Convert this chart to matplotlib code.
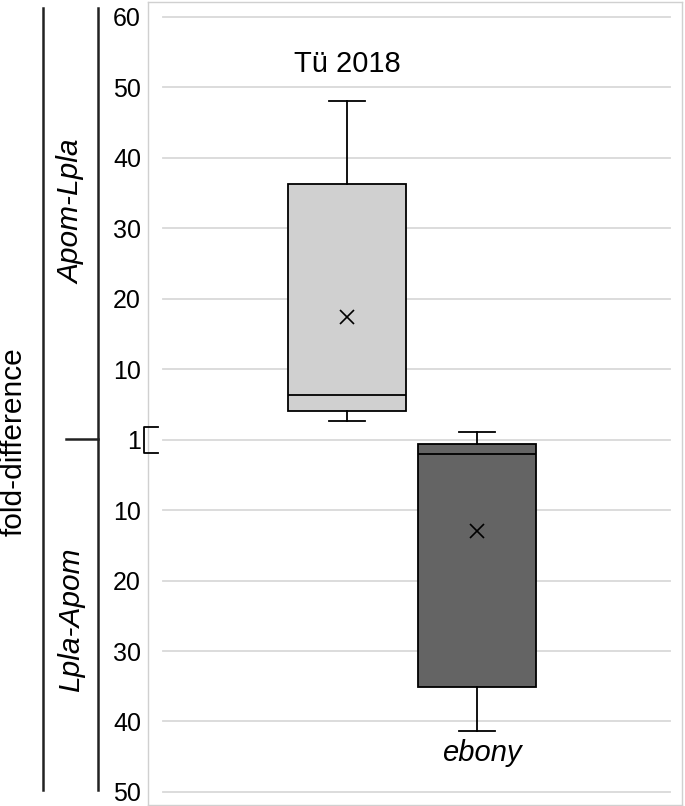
import matplotlib
matplotlib.use("Agg")
import matplotlib.pyplot as plt
from matplotlib.lines import Line2D

plt.rcParams['font.family'] = ['Liberation Sans', 'DejaVu Sans']

# Internal axis coordinate: positive = Apom-Lpla fold, 0 = "1", negative = Lpla-Apom fold
tick_pos = [60, 50, 40, 30, 20, 10, 0, -10, -20, -30, -40, -50]
tick_labels = ["60", "50", "40", "30", "20", "10", "1", "10", "20", "30", "40", "50"]

box_names = ["Tü 2018", "ebony"]
whislo = [2.7, -41.3]
q1 = [4.1, -35.1]
med = [6.3, -2.1]
q3 = [36.3, -0.6]
whishi = [48.1, 1.1]
means = [17.4, -13.0]
box_colors = ["#d0d0d0", "#646464"]

W, H = 685, 806
fig = plt.figure(figsize=(W / 100, H / 100), dpi=100)
ax = fig.add_axes([148 / W, 1 - 805 / H, 534 / W, 803 / H])
ax.set_xlim(0, 1)
ax.set_ylim(-51.85, 62.1)

positions = [0.3727, 0.616]
stats = []
for i in range(2):
    stats.append(dict(label=box_names[i], whislo=whislo[i], q1=q1[i], med=med[i],
                      q3=q3[i], whishi=whishi[i], mean=means[i], fliers=[]))

# gridlines
for t in tick_pos:
    ax.axhline(t, xmin=0.028, xmax=0.9775, color="#d9d9d9", lw=1.3, zorder=0)

bp = ax.bxp(stats, positions=positions, widths=0.221, patch_artist=True,
            showmeans=True, showfliers=False,
            boxprops=dict(edgecolor="black", linewidth=1.3),
            medianprops=dict(color="black", linewidth=1.3),
            whiskerprops=dict(color="black", linewidth=1.3),
            capprops=dict(color="black", linewidth=1.3),
            meanprops=dict(marker="x", markeredgecolor="black", markersize=10,
                           markeredgewidth=1.2),
            capwidths=0.068, manage_ticks=False, zorder=3)
for patch, c in zip(bp['boxes'], box_colors):
    patch.set_facecolor(c)

ax.set_yticks(tick_pos)
ax.set_yticklabels(tick_labels, fontsize=18)
ax.tick_params(axis='y', length=0, pad=5)
ax.set_xticks([])
for s in ax.spines.values():
    s.set_color("#d0d0d0")
    s.set_linewidth(1.0)

# category labels inside plot
ax.text(positions[0], 53.3, box_names[0], ha="center", va="center", fontsize=21)
ax.text(positions[1] + 0.01, -44.5, box_names[1], ha="center", va="center",
        fontsize=21, style="italic")

# axis-break bracket
bx = [0.0187, -0.0075, -0.0075, 0.0187]
by = [1.85, 1.85, -1.9, -1.9]
ax.plot(bx, by, color="black", lw=1.3, clip_on=False, zorder=5)

# left annotation lines (figure coords)
def fl(x0, y0, x1, y1):
    fig.add_artist(Line2D([x0 / W, x1 / W], [1 - y0 / H, 1 - y1 / H],
                          color="#222222", lw=1.8))

fl(43, 8, 43, 790)
fl(98, 8, 98, 790)
fl(66, 439, 98, 439)

fig.text(14 / W, 1 - 442 / H, "fold-difference", rotation=90, ha="center",
         va="center", fontsize=21.5)
fig.text(71 / W, 1 - 212 / H, "Apom-Lpla", rotation=90, ha="center",
         va="center", fontsize=21.5, style="italic")
fig.text(71 / W, 1 - 620 / H, "Lpla-Apom", rotation=90, ha="center",
         va="center", fontsize=21.5, style="italic")

fig.savefig("out.png", dpi=100)
